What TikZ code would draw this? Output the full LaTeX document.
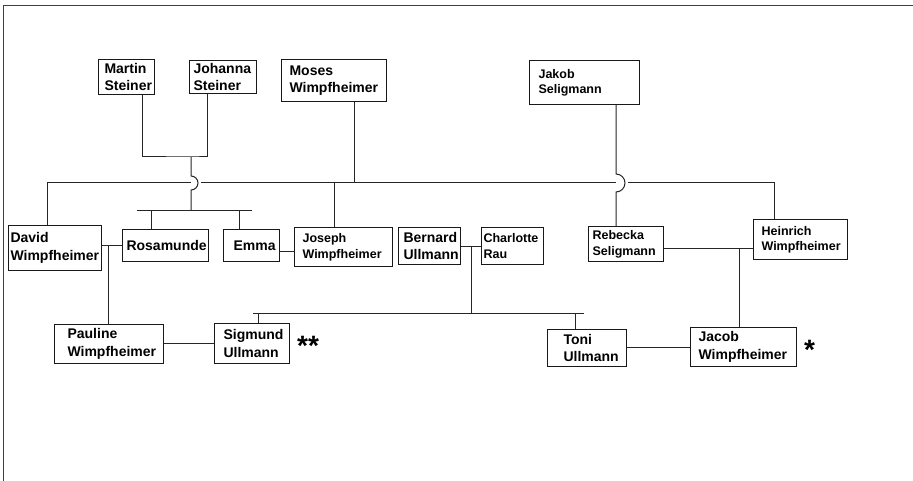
\documentclass[tikz,border=0pt]{standalone}
\usepackage{fontspec}
\setmainfont{Liberation Sans}
\usetikzlibrary{calc}
\hyphenpenalty=10000
\exhyphenpenalty=10000
\tikzset{
	person/.style={draw=black!90, line width=1.1pt, anchor=north west, align=left, inner ysep=0pt},
	big/.style={font=\fontsize{14}{17.5}\selectfont\bfseries},
	small/.style={font=\fontsize{12.5}{15.5}\selectfont\bfseries},
	kin/.style={draw=black!85, line width=1pt},
	mark star/.style={inner sep=0pt, anchor=base west, font=\fontsize{28}{28}\selectfont\bfseries}
}
\begin{document}
\begin{tikzpicture}[x=1pt,y=-1pt]
			\useasboundingbox (0,0) rectangle (913,481);
			\fill[white] (0,0) rectangle (913,481);
			\draw[black!75, line width=1pt] (913,6) -- (3,6) -- (3,481);
			% persons
			\node[person, big, minimum width=56pt, minimum height=35pt, text width=44pt, inner xsep=6pt] (martin) at (98,59) {Martin\\Steiner};
			\node[person, big, minimum width=67pt, minimum height=33pt, text width=59pt, inner xsep=4pt] (johanna) at (189,60) {Johanna\\Steiner};
			\node[person, big, minimum width=105pt, minimum height=42pt, text width=89pt, inner xsep=8pt] (moses) at (281,59) {Moses\\Wimpfheimer};
			\node[person, small, minimum width=110pt, minimum height=44pt, text width=92pt, inner xsep=9pt] (jakob) at (529,60) {Jakob\\Seligmann};
			\node[person, big, minimum width=93pt, minimum height=45pt, text width=89pt, inner xsep=2pt] (david) at (8,225) {David\\Wimpfheimer};
			\node[person, big, minimum width=86pt, minimum height=32pt, text width=78pt, inner xsep=4pt] (rosamunde) at (122,229) {Rosamunde};
			\node[person, big, minimum width=56pt, minimum height=32pt, text width=36pt, inner xsep=10pt] (emma) at (223,229) {Emma};
			\node[person, small, minimum width=98pt, minimum height=39pt, text width=82pt, inner xsep=8pt] (joseph) at (294,227) {Joseph\\Wimpfheimer};
			\node[person, big, minimum width=62pt, minimum height=37pt, text width=52pt, inner xsep=5pt] (bernard) at (398,227) {Bernard\\Ullmann};
			\node[person, small, minimum width=62pt, minimum height=37pt, text width=58pt, inner xsep=2pt] (charlotte) at (481,227) {Charlotte\\Rau};
			\node[person, small, minimum width=75pt, minimum height=35pt, text width=67pt, inner xsep=4pt] (rebecka) at (588,226) {Rebecka\\Seligmann};
			\node[person, small, minimum width=94pt, minimum height=40pt, text width=78pt, inner xsep=8pt] (heinrich) at (753,219) {Heinrich\\Wimpfheimer};
			\node[person, big, minimum width=109pt, minimum height=39pt, text width=83pt, inner xsep=13pt] (pauline) at (54,324) {Pauline\\Wimpfheimer};
			\node[person, big, minimum width=75pt, minimum height=40pt, text width=57pt, inner xsep=9pt] (sigmund) at (214,323) {Sigmund\\Ullmann};
			\node[person, big, minimum width=79pt, minimum height=37pt, text width=47pt, inner xsep=16pt] (toni) at (547,329) {Toni\\Ullmann};
			\node[person, big, minimum width=106pt, minimum height=39pt, text width=90pt, inner xsep=8pt] (jacob) at (690,327) {Jacob\\Wimpfheimer};
			\node[mark star] (stars) at (297,355) {**};
			\node[mark star] (star) at (804,359) {*};
			% junctions
			\coordinate (steiner) at (191,157);
			\coordinate (steinerkids) at (191,211);
			\coordinate (hopA) at (191,183);
			\coordinate (hopB) at (616,183);
			\coordinate (mainL) at (47,183);
			\coordinate (mainR) at (774,183);
			\coordinate (mosesdrop) at (354,183);
			\coordinate (josephdrop) at (334,183);
			\coordinate (barL) at (137,211);
			\coordinate (barR) at (252,211);
			\coordinate (rosadrop) at (151,211);
			\coordinate (emmadrop) at (239,211);
			\coordinate (davidrosa) at (108,246);
			\coordinate (emmajoseph) at (286,252);
			\coordinate (bernchar) at (471,247);
			\coordinate (ullmannkids) at (471,313);
			\coordinate (kidsL) at (253,313);
			\coordinate (kidsR) at (584,313);
			\coordinate (sigdrop) at (258,313);
			\coordinate (tonidrop) at (575,313);
			\coordinate (rebhein) at (739,249);
			\coordinate (paulsig) at (188,343);
			\coordinate (tonijacob) at (658,347);
			% lines
			\draw[kin] ([xshift=16pt]martin.south) |- (steiner) -| ([xshift=-15.5pt]johanna.south);
			\draw[kin] (steiner) -- ($(hopA)+(0,-7)$) arc[start angle=-90, end angle=90, radius=7] -- (steinerkids);
			\draw[kin] (barL) -- (barR);
			\draw[kin] (rosadrop) -- (rosamunde.north -| rosadrop);
			\draw[kin] (emmadrop) -- (emma.north -| emmadrop);
			\draw[kin] (david.north -| mainL) -- (mainL) -- (hopA);
			\draw[kin] ($(hopA)+(10,0)$) -- (hopB);
			\draw[kin] ($(hopB)+(12,0)$) -- (mainR) -- (heinrich.north -| mainR);
			\draw[kin] (moses.south -| mosesdrop) -- (mosesdrop);
			\draw[kin] (josephdrop) -- (joseph.north -| josephdrop);
			\draw[kin] (jakob.south -| hopB) -- ($(hopB)+(0,-9)$) arc[start angle=-90, end angle=90, radius=9] -- (rebecka.north -| hopB);
			\draw[kin] (david.east |- davidrosa) -- (rosamunde.west |- davidrosa);
			\draw[kin] (davidrosa) -- (pauline.north -| davidrosa);
			\draw[kin] (emma.east |- emmajoseph) -- (joseph.west |- emmajoseph);
			\draw[kin] (bernard.east |- bernchar) -- (charlotte.west |- bernchar);
			\draw[kin] (bernchar) -- (ullmannkids);
			\draw[kin] (kidsL) -- (kidsR);
			\draw[kin] (sigdrop) -- (sigmund.north -| sigdrop);
			\draw[kin] (tonidrop) -- (toni.north -| tonidrop);
			\draw[kin] (rebecka.east |- rebhein) -- (heinrich.west |- rebhein);
			\draw[kin] (rebhein) -- (jacob.north -| rebhein);
			\draw[kin] (pauline.east |- paulsig) -- (sigmund.west |- paulsig);
			\draw[kin] (toni.east |- tonijacob) -- (jacob.west |- tonijacob);
	\end{tikzpicture}
\end{document}
